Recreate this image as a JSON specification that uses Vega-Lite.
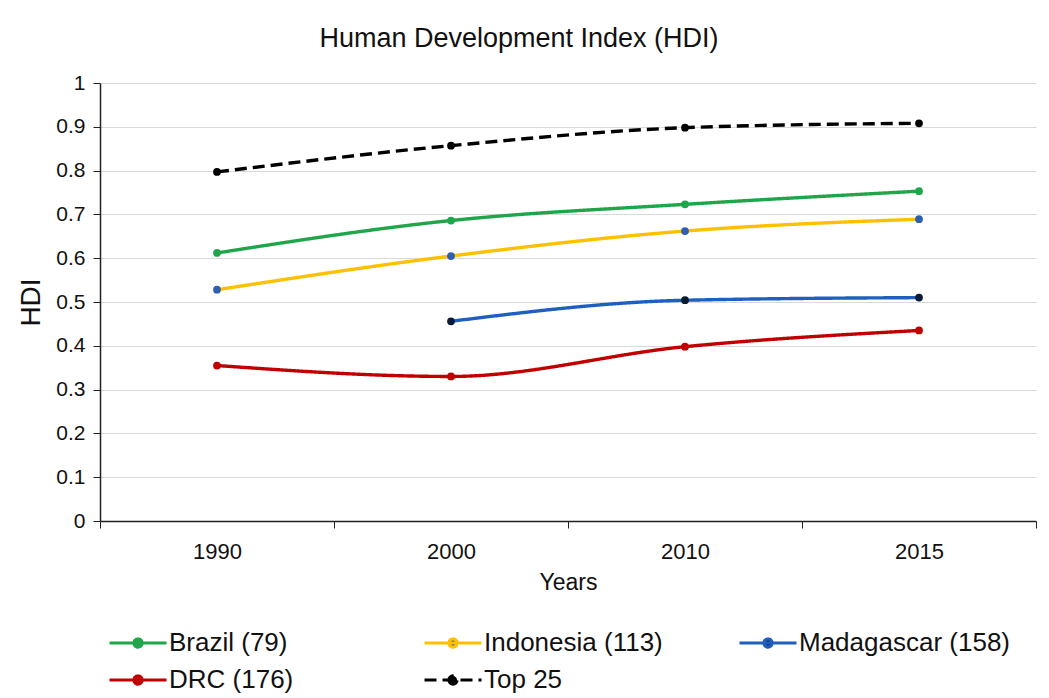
{
  "$schema": "https://vega.github.io/schema/vega-lite/v6.json",
  "width": 936,
  "height": 438,
  "autosize": "none",
  "padding": {"left": 100, "top": 83, "right": 13, "bottom": 177},
  "background": "white",
  "config": {
    "font": "Liberation Sans",
    "view": {"stroke": null}
  },
  "title": {
    "text": "Human Development Index (HDI)",
    "fontSize": 27,
    "fontWeight": "normal",
    "color": "#111111",
    "anchor": "middle",
    "frame": "group",
    "dx": -49,
    "offset": 19
  },
  "data": {
    "values": [
      {"Year": "1990", "Series": "Brazil (79)", "HDI": 0.612},
      {"Year": "2000", "Series": "Brazil (79)", "HDI": 0.686},
      {"Year": "2010", "Series": "Brazil (79)", "HDI": 0.723},
      {"Year": "2015", "Series": "Brazil (79)", "HDI": 0.753},
      {"Year": "1990", "Series": "Indonesia (113)", "HDI": 0.528},
      {"Year": "2000", "Series": "Indonesia (113)", "HDI": 0.605},
      {"Year": "2010", "Series": "Indonesia (113)", "HDI": 0.662},
      {"Year": "2015", "Series": "Indonesia (113)", "HDI": 0.689},
      {"Year": "2000", "Series": "Madagascar (158)", "HDI": 0.456},
      {"Year": "2010", "Series": "Madagascar (158)", "HDI": 0.504},
      {"Year": "2015", "Series": "Madagascar (158)", "HDI": 0.510},
      {"Year": "1990", "Series": "DRC (176)", "HDI": 0.355},
      {"Year": "2000", "Series": "DRC (176)", "HDI": 0.330},
      {"Year": "2010", "Series": "DRC (176)", "HDI": 0.398},
      {"Year": "2015", "Series": "DRC (176)", "HDI": 0.435},
      {"Year": "1990", "Series": "Top 25", "HDI": 0.797},
      {"Year": "2000", "Series": "Top 25", "HDI": 0.857},
      {"Year": "2010", "Series": "Top 25", "HDI": 0.898},
      {"Year": "2015", "Series": "Top 25", "HDI": 0.908}
    ]
  },
  "encoding": {
    "x": {
      "field": "Year",
      "type": "ordinal",
      "bandPosition": 0.5,
      "scale": {"type": "band", "paddingInner": 0, "paddingOuter": 0},
      "axis": {
        "title": "Years",
        "titleFontSize": 23,
        "titleFontWeight": "normal",
        "titleColor": "#111111",
        "titlePadding": 9,
        "labelAngle": 0,
        "labelFontSize": 22,
        "labelColor": "#111111",
        "labelPadding": 13,
        "tickBand": "extent",
        "tickSize": 7,
        "tickColor": "#222222",
        "domainColor": "#222222",
        "domainWidth": 1.5,
        "grid": false
      }
    },
    "y": {
      "field": "HDI",
      "type": "quantitative",
      "scale": {"domain": [0, 1], "nice": false},
      "axis": {
        "title": "HDI",
        "titleFontSize": 28,
        "titleFontWeight": "normal",
        "titleColor": "#111111",
        "titlePadding": 10,
        "values": [0, 0.1, 0.2, 0.3, 0.4, 0.5, 0.6, 0.7, 0.8, 0.9, 1],
        "format": "~g",
        "labelFontSize": 21,
        "labelColor": "#111111",
        "labelPadding": 8,
        "tickSize": 7,
        "tickColor": "#222222",
        "domainColor": "#222222",
        "domainWidth": 1.5,
        "grid": true,
        "gridColor": "#d9d9d9",
        "gridWidth": 1.2
      }
    }
  },
  "layer": [
    {
      "mark": {"type": "line", "interpolate": "monotone", "strokeWidth": 3.4},
      "encoding": {
        "color": {
          "field": "Series",
          "type": "nominal",
          "sort": ["Brazil (79)", "Indonesia (113)", "Madagascar (158)", "DRC (176)", "Top 25"],
          "scale": {
            "domain": ["Brazil (79)", "Indonesia (113)", "Madagascar (158)", "DRC (176)", "Top 25"],
            "range": ["#1fa64a", "#ffc000", "#1f5fc0", "#c00000", "#000000"]
          },
          "legend": {
            "title": null,
            "orient": "none",
            "legendX": 21,
            "legendY": 543,
            "direction": "horizontal",
            "columns": 3,
            "gridAlign": "all",
            "columnPadding": 38,
            "rowPadding": 7,
            "symbolType": "M-1.9,0H1.9M-0.27,0A0.27,0.27,0,1,0,0.27,0A0.27,0.27,0,1,0,-0.27,0Z",
            "symbolSize": 900,
            "symbolStrokeWidth": 3.2,
            "labelFontSize": 26,
            "labelColor": "#111111",
            "labelOffset": 14,
            "labelLimit": 400
          }
        },
        "strokeDash": {
          "field": "Series",
          "type": "nominal",
          "sort": ["Brazil (79)", "Indonesia (113)", "Madagascar (158)", "DRC (176)", "Top 25"],
          "scale": {
            "domain": ["Brazil (79)", "Indonesia (113)", "Madagascar (158)", "DRC (176)", "Top 25"],
            "range": [[1, 0], [1, 0], [1, 0], [1, 0], [12, 6]]
          },
          "legend": {
            "title": null,
            "orient": "none",
            "legendX": 21,
            "legendY": 543,
            "direction": "horizontal",
            "columns": 3,
            "gridAlign": "all",
            "columnPadding": 38,
            "rowPadding": 7,
            "symbolType": "M-1.9,0H1.9M-0.27,0A0.27,0.27,0,1,0,0.27,0A0.27,0.27,0,1,0,-0.27,0Z",
            "symbolSize": 900,
            "symbolStrokeWidth": 3.2,
            "labelFontSize": 26,
            "labelColor": "#111111",
            "labelOffset": 14,
            "labelLimit": 400
          }
        }
      }
    },
    {
      "mark": {"type": "point", "filled": true, "size": 60, "opacity": 1},
      "encoding": {
        "fill": {
          "field": "Series",
          "type": "nominal",
          "scale": {
            "domain": ["Brazil (79)", "Indonesia (113)", "Madagascar (158)", "DRC (176)", "Top 25"],
            "range": ["#1fa64a", "#2f5fb0", "#0a1a3a", "#c00000", "#000000"]
          },
          "legend": null
        }
      }
    }
  ]
}
